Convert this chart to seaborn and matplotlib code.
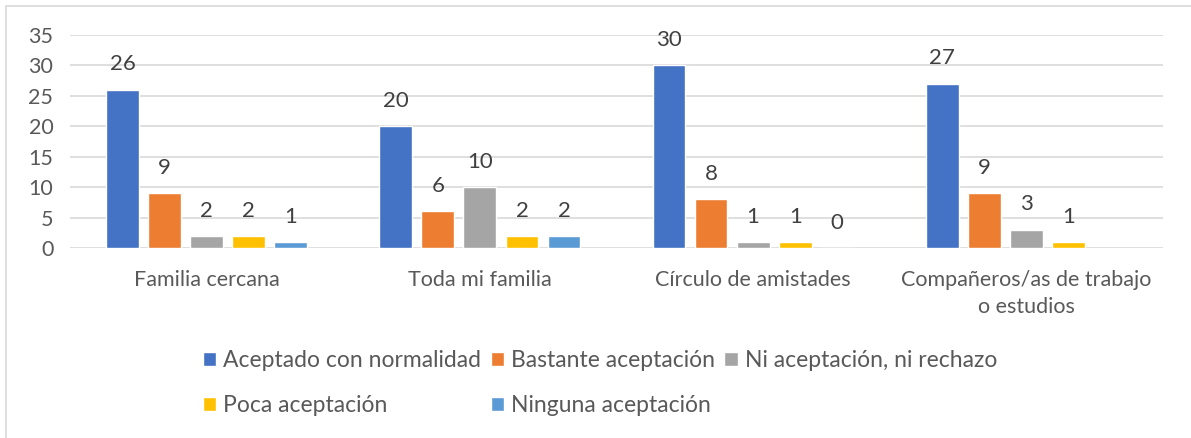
import numpy as np
import pandas as pd
import matplotlib
matplotlib.use("Agg")
import matplotlib.pyplot as plt
import seaborn as sns

categories = ["Familia cercana", "Toda mi familia", "Círculo de amistades",
              "Compañeros/as de trabajo\no estudios"]
series = ["Aceptado con normalidad", "Bastante aceptación",
          "Ni aceptación, ni rechazo", "Poca aceptación", "Ninguna aceptación"]
aceptado = [26, 20, 30, 27]
bastante = [9, 6, 8, 9]
ni_ni = [2, 10, 1, 3]
poca = [2, 2, 1, 1]
ninguna = [1, 2, 0, np.nan]
colors = ["#4472C4", "#ED7D31", "#A5A5A5", "#FFC000", "#5B9BD5"]

rows = []
for name, vals in zip(series, [aceptado, bastante, ni_ni, poca, ninguna]):
    for cat, v in zip(categories, vals):
        if not np.isnan(v):
            rows.append({"cat": cat, "serie": name, "valor": v})
df = pd.DataFrame(rows)

sns.set_style("white")
plt.rcParams["font.family"] = ["Lato", "DejaVu Sans"]
text_col = "#595959"
fs = 15.5

fig = plt.figure(figsize=(11.91, 4.38), dpi=100)
ax = fig.add_axes([70 / 1191, 190 / 438, (1163 - 70) / 1191, 213 / 438])

sns.barplot(data=df, x="cat", y="valor", hue="serie", order=categories,
            hue_order=series, palette=colors, width=0.77, gap=0.22,
            errorbar=None, ax=ax, saturation=1)

for cont in ax.containers:
    ax.bar_label(cont, fmt="%g", padding=11, fontsize=16, color="#404040")

ax.set_ylim(0, 35)
ax.set_yticks(range(0, 36, 5))
ax.set_xlim(-0.5, 3.5)
ax.grid(axis="y", color="#D9D9D9", linewidth=1.2)
ax.set_axisbelow(True)
for s in ax.spines.values():
    s.set_visible(False)
ax.set_xlabel("")
ax.set_ylabel("")
ax.tick_params(axis="both", length=0, labelsize=fs, colors=text_col)
ax.tick_params(axis="x", pad=16)
ax.tick_params(axis="y", pad=12)
for t in ax.get_xticklabels():
    t.set_linespacing(1.45)

handles, labels = ax.get_legend_handles_labels()
ax.get_legend().remove()
order = [0, 3, 1, 4, 2]
fig.legend([handles[i] for i in order], [labels[i] for i in order],
           loc="center", bbox_to_anchor=(600 / 1191, 1 - 383 / 438), ncol=3,
           frameon=False, fontsize=16.5, labelcolor=text_col,
           handlelength=0.6, handleheight=0.6, handletextpad=0.3,
           columnspacing=0.4, labelspacing=1.05)

fig.patches.append(plt.Rectangle((6 / 1191, -0.1), 1.2, 1 - 6 / 438 + 0.1,
                                 transform=fig.transFigure, fill=False,
                                 edgecolor="#D9D9D9", linewidth=1.2))

fig.savefig("out.png", dpi=100)
